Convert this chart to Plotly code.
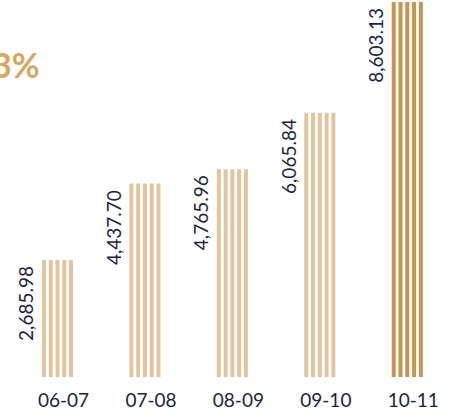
import plotly.graph_objects as go

# Annual figures by financial year
years = ["06-07", "07-08", "08-09", "09-10", "10-11"]
values = [2685.98, 4437.70, 4765.96, 6065.84, 8603.13]
value_labels = ["2,685.98", "4,437.70", "4,765.96", "6,065.84", "8,603.13"]
headline = "3%"

LIGHT = "#E3C49C"
DARK = "#C8954F"
INK = "#1C2540"
GOLD = "#D6A75C"
FONT = "Lato, Open Sans, sans-serif"

bar_colors = [LIGHT] * (len(years) - 1) + [DARK]

fig = go.Figure()

# Each column is drawn as five thin vertical stripes (grouped copies of the series)
for _ in range(5):
    fig.add_trace(go.Bar(
        x=years,
        y=values,
        marker=dict(color=bar_colors, line=dict(width=0)),
        showlegend=False,
        hovertemplate="%{x}: %{y:,.2f}<extra></extra>",
    ))

# Rotated value labels beside each column
for yr, v, lab in zip(years, values, value_labels):
    fig.add_annotation(
        x=yr, y=v, xref="x", yref="y",
        text=lab, textangle=-90,
        showarrow=False,
        xanchor="center", yanchor="top",
        xshift=-32, yshift=-4,
        font=dict(family=FONT, size=19, color=INK),
    )

# Headline figure at upper left
fig.add_annotation(
    x=0, y=1, xref="paper", yref="paper",
    text=f"<b>{headline}</b>",
    showarrow=False,
    xanchor="right", yanchor="top",
    xshift=30, yshift=-42,
    font=dict(family=FONT, size=34, color=GOLD),
)

fig.update_layout(
    width=451, height=416,
    margin=dict(l=12, r=0, t=0, b=39),
    paper_bgcolor="white",
    plot_bgcolor="white",
    barmode="group",
    bargap=0.613,
    bargroupgap=0.41,
    xaxis=dict(
        type="category",
        showgrid=False, zeroline=False, showline=False,
        ticks="",
        ticklabelstandoff=10,
        ticklabelshift=6,
        tickfont=dict(family=FONT, size=19, color=INK),
    ),
    yaxis=dict(
        range=[0, 8650],
        visible=False,
        showgrid=False, zeroline=False,
    ),
)

fig.write_html("out.html")
